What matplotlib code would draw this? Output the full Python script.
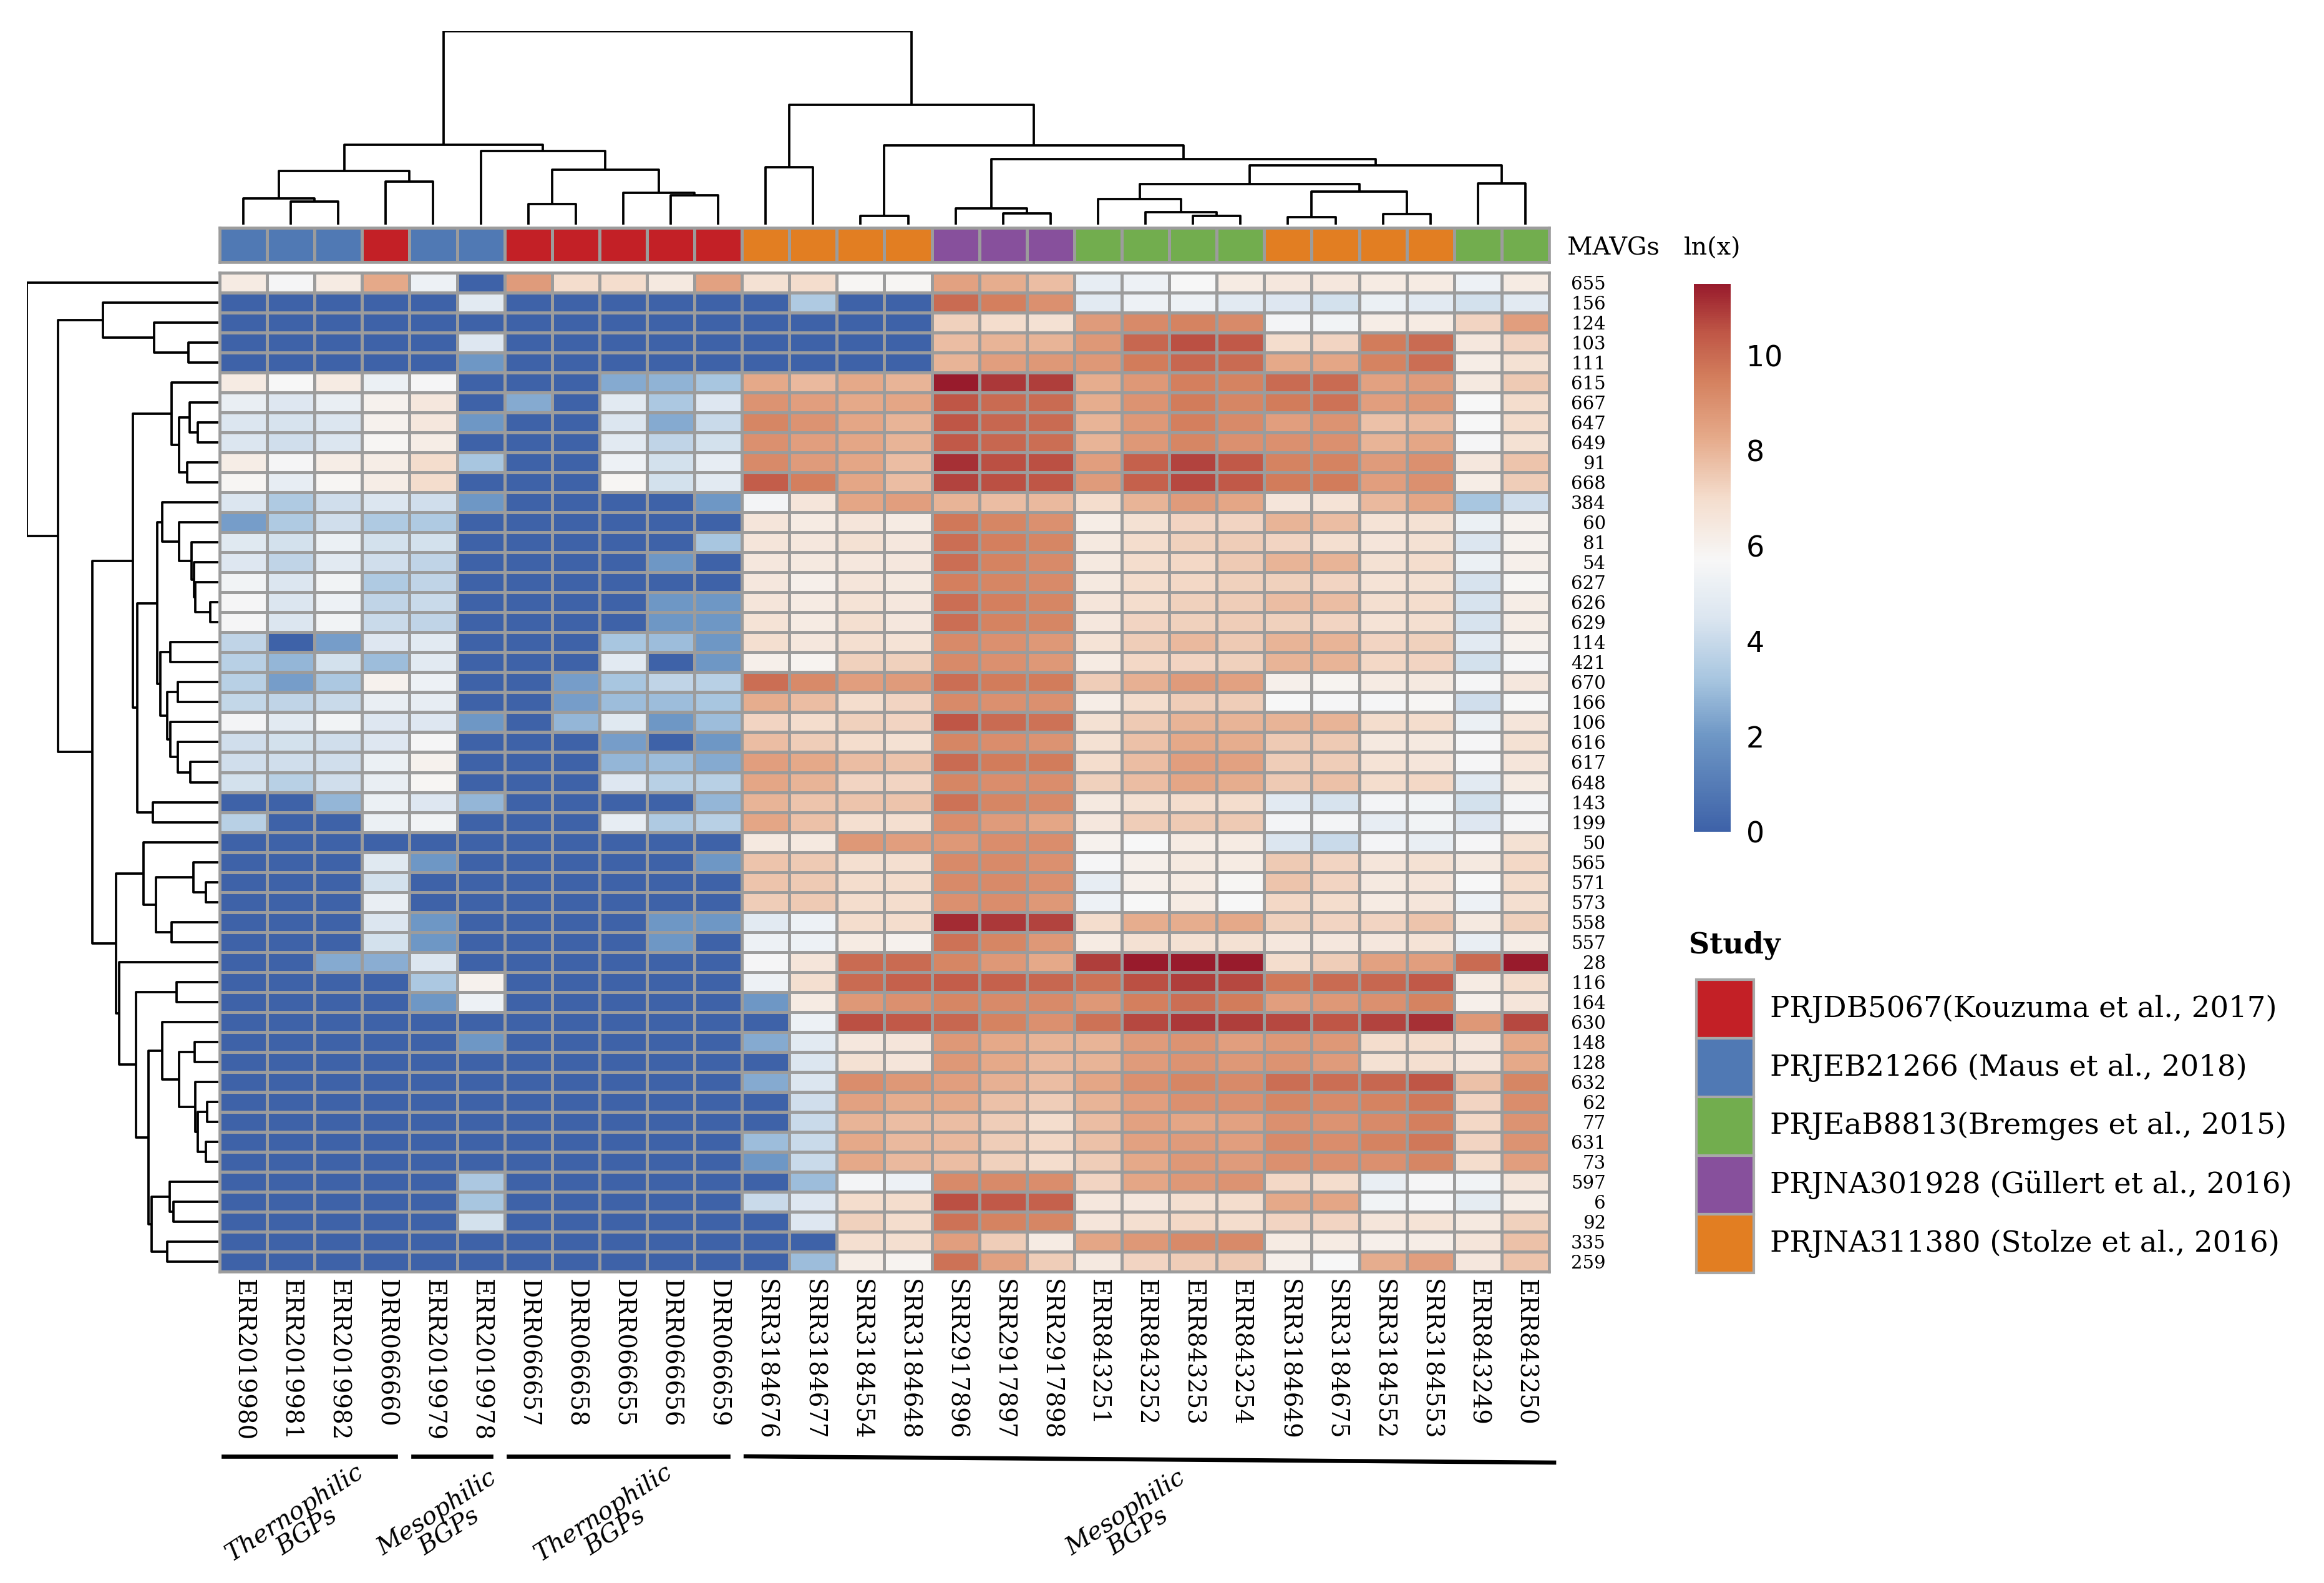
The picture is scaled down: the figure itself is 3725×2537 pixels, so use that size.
import numpy as np
import matplotlib
matplotlib.use("Agg")
import matplotlib.pyplot as plt
from matplotlib.colors import LinearSegmentedColormap, ListedColormap
from matplotlib.patches import Rectangle

# figure size in pixels
W, H = 3725, 2537
DPI = 300

samples = ["ERR2019980", "ERR2019981", "ERR2019982", "DRR066660", "ERR2019979", "ERR2019978",
           "DRR066657", "DRR066658", "DRR066655", "DRR066656", "DRR066659",
           "SRR3184676", "SRR3184677", "SRR3184554", "SRR3184648",
           "SRR2917896", "SRR2917897", "SRR2917898",
           "ERR843251", "ERR843252", "ERR843253", "ERR843254",
           "SRR3184649", "SRR3184675", "SRR3184552", "SRR3184553", "ERR843249", "ERR843250"]

mavgs = ["655", "156", "124", "103", "111", "615", "667", "647", "649", "91",
         "668", "384", "60", "81", "54", "627", "626", "629", "114", "421",
         "670", "166", "106", "616", "617", "648", "143", "199", "50", "565",
         "571", "573", "558", "557", "28", "116", "164", "630", "148", "128",
         "632", "62", "77", "631", "73", "597", "6", "92", "335", "259"]

study_names = ["PRJDB5067(Kouzuma et al., 2017)",
               "PRJEB21266 (Maus et al., 2018)",
               "PRJEaB8813(Bremges et al., 2015)",
               "PRJNA301928 (Güllert et al., 2016)",
               "PRJNA311380 (Stolze et al., 2016)"]
study_colors = ["#C32026", "#5079B4", "#72AD4E", "#87509C", "#E27E22"]
sample_study = [1, 1, 1, 0, 1, 1, 0, 0, 0, 0, 0, 4, 4, 4, 4, 3, 3, 3,
                2, 2, 2, 2, 4, 4, 4, 4, 2, 2]

# ln(x) abundance, rows = MAVGs, columns = samples
ln_abund = [
    [6.3, 5.6, 6.3, 8.3, 5.3, 0, 8.7, 7.0, 7.0, 6.4, 8.5, 6.8, 7.0, 5.8, 5.8, 8.5, 8.2, 7.8, 5.0, 5.3, 5.7, 6.3, 6.5, 6.5, 6.3, 6.3, 5.3, 6.3],
    [0, 0, 0, 0, 0, 4.8, 0, 0, 0, 0, 0, 0, 3.4, 0, 0, 10.0, 9.5, 9.0, 4.8, 5.3, 5.3, 4.8, 4.6, 4.3, 5.2, 4.8, 4.3, 4.8],
    [0, 0, 0, 0, 0, 0, 0, 0, 0, 0, 0, 0, 0, 0, 0, 7.3, 7.0, 6.8, 8.7, 9.2, 9.4, 9.2, 5.5, 5.4, 6.2, 6.3, 7.2, 8.6],
    [0, 0, 0, 0, 0, 4.6, 0, 0, 0, 0, 0, 0, 0, 0, 0, 7.8, 8.0, 8.0, 8.8, 10.1, 10.6, 10.4, 7.0, 7.2, 9.6, 10.0, 6.5, 7.2],
    [0, 0, 0, 0, 0, 2.0, 0, 0, 0, 0, 0, 0, 0, 0, 0, 8.0, 8.6, 8.8, 8.8, 9.6, 10.1, 10.0, 8.3, 8.4, 9.4, 9.9, 6.2, 6.8],
    [6.3, 5.7, 6.3, 5.2, 5.6, 0, 0, 0, 2.5, 2.7, 3.2, 8.3, 7.9, 8.3, 8.0, 11.5, 11.0, 10.9, 8.2, 8.8, 9.5, 9.4, 10.0, 10.0, 8.5, 8.7, 6.4, 7.5],
    [5.1, 4.6, 5.1, 6.0, 6.5, 0, 2.5, 0, 4.8, 3.3, 4.6, 8.9, 8.6, 8.3, 8.4, 10.5, 10.0, 10.0, 8.2, 8.9, 9.6, 9.3, 9.6, 9.8, 8.6, 8.8, 5.7, 7.0],
    [4.5, 4.4, 4.5, 6.0, 6.5, 2.0, 0, 0, 4.5, 2.5, 4.0, 9.3, 8.9, 8.4, 8.0, 10.5, 10.1, 10.0, 8.0, 8.8, 9.5, 9.2, 8.6, 8.9, 7.7, 7.9, 5.7, 7.0],
    [4.5, 4.2, 4.5, 5.8, 6.2, 0, 0, 0, 4.8, 3.8, 4.3, 9.0, 8.6, 8.4, 8.0, 10.4, 10.1, 9.9, 8.0, 8.8, 9.3, 9.0, 9.0, 9.0, 8.0, 8.4, 5.6, 6.8],
    [6.2, 5.6, 6.2, 6.2, 7.0, 3.2, 0, 0, 5.3, 4.3, 5.0, 9.2, 8.7, 8.4, 7.8, 11.1, 10.6, 10.6, 8.6, 10.2, 10.8, 10.4, 9.4, 9.4, 8.7, 9.0, 6.5, 7.6],
    [5.8, 5.0, 5.8, 6.2, 7.0, 0, 0, 0, 5.8, 4.3, 4.8, 10.3, 9.5, 8.4, 7.8, 10.8, 10.6, 10.5, 8.7, 10.2, 10.7, 10.4, 9.6, 9.6, 8.6, 9.0, 6.2, 7.4],
    [4.5, 3.4, 4.2, 4.5, 4.2, 2.0, 0, 0, 0, 0, 2.0, 5.5, 6.6, 8.4, 8.6, 8.0, 7.8, 7.9, 7.0, 8.0, 8.7, 8.4, 6.6, 6.7, 7.9, 8.4, 3.2, 4.2],
    [2.2, 3.4, 4.2, 3.4, 3.4, 0, 0, 0, 0, 0, 0, 6.6, 6.3, 6.6, 6.3, 9.7, 9.3, 9.0, 6.2, 6.8, 7.2, 7.2, 8.0, 7.8, 6.7, 6.8, 5.2, 6.0],
    [4.7, 4.3, 5.2, 4.3, 4.3, 0, 0, 0, 0, 0, 3.2, 6.6, 6.5, 6.8, 6.5, 9.9, 9.5, 9.3, 6.4, 7.0, 7.3, 7.4, 7.2, 6.9, 6.6, 6.8, 4.5, 6.0],
    [4.6, 3.8, 4.8, 4.2, 3.8, 0, 0, 0, 0, 2.0, 0, 6.5, 6.4, 6.5, 6.5, 9.9, 9.4, 9.2, 6.4, 7.0, 7.1, 7.5, 8.0, 8.0, 6.8, 7.0, 5.2, 6.1],
    [5.4, 4.5, 5.4, 3.4, 3.8, 0, 0, 0, 0, 0, 0, 6.5, 6.1, 6.6, 6.4, 9.5, 9.3, 9.2, 6.4, 7.0, 7.1, 7.3, 7.3, 7.2, 6.7, 6.8, 4.4, 5.8],
    [5.6, 4.5, 5.3, 3.8, 4.0, 0, 0, 0, 0, 2.0, 2.0, 6.6, 6.3, 6.7, 6.5, 9.9, 9.5, 9.3, 6.6, 7.0, 7.3, 7.4, 7.8, 7.8, 6.9, 7.0, 4.4, 6.2],
    [5.6, 4.5, 5.4, 4.0, 3.8, 0, 0, 0, 0, 2.0, 2.0, 6.7, 6.3, 6.9, 6.5, 9.9, 9.4, 9.3, 6.5, 7.2, 7.3, 7.4, 7.3, 7.2, 6.7, 6.9, 4.4, 6.2],
    [3.8, 0, 2.2, 4.6, 4.8, 0, 0, 0, 3.2, 3.0, 2.0, 6.9, 6.5, 6.9, 6.7, 9.2, 9.0, 8.8, 6.7, 7.4, 7.9, 7.5, 8.0, 8.0, 7.2, 7.3, 4.8, 6.0],
    [3.6, 2.8, 4.3, 3.0, 4.8, 0, 0, 0, 4.8, 0, 2.0, 6.1, 5.9, 7.3, 7.3, 9.2, 9.0, 8.8, 6.3, 7.1, 7.2, 7.3, 8.0, 8.0, 7.1, 7.2, 4.3, 5.6],
    [3.6, 2.2, 3.3, 6.0, 5.3, 0, 0, 2.2, 3.2, 3.8, 3.6, 9.9, 9.2, 8.6, 8.7, 9.9, 9.6, 9.6, 7.4, 8.1, 8.7, 8.5, 6.1, 5.9, 6.3, 6.4, 5.6, 6.5],
    [3.9, 3.8, 4.0, 5.1, 5.0, 0, 0, 2.2, 3.0, 3.0, 3.2, 8.2, 7.8, 7.0, 7.2, 9.2, 9.0, 9.0, 6.2, 7.0, 7.4, 7.4, 5.7, 5.6, 5.6, 5.8, 4.2, 5.7],
    [5.5, 4.8, 5.4, 4.6, 4.6, 2.0, 0, 2.8, 4.7, 2.0, 3.0, 7.2, 7.0, 7.3, 7.2, 10.5, 10.0, 9.8, 6.8, 7.5, 8.0, 8.0, 8.0, 8.0, 7.0, 7.0, 5.2, 6.6],
    [4.2, 4.3, 4.2, 4.6, 5.6, 0, 0, 0, 2.2, 0, 2.0, 7.8, 7.4, 7.0, 6.8, 9.3, 9.1, 8.9, 6.8, 7.7, 8.3, 8.2, 7.5, 7.5, 6.4, 6.4, 5.6, 6.8],
    [4.2, 4.2, 4.2, 5.2, 6.0, 0, 0, 0, 2.8, 3.0, 2.5, 8.6, 8.3, 7.8, 7.6, 10.0, 9.6, 9.6, 7.0, 7.8, 8.6, 8.5, 7.4, 7.4, 6.7, 6.6, 5.6, 6.6],
    [4.3, 3.6, 4.2, 5.1, 5.8, 0, 0, 0, 4.6, 3.6, 3.6, 8.4, 8.0, 7.2, 7.2, 9.3, 9.1, 9.1, 7.3, 7.8, 8.4, 8.2, 7.5, 7.7, 7.0, 7.1, 4.8, 6.3],
    [0, 0, 2.8, 5.2, 4.6, 2.8, 0, 0, 0, 0, 2.8, 8.0, 7.6, 7.6, 7.6, 9.8, 9.3, 9.2, 6.4, 6.8, 7.0, 7.0, 4.8, 4.4, 5.5, 5.4, 4.3, 5.5],
    [3.6, 0, 0, 5.2, 5.4, 0, 0, 0, 5.0, 3.4, 3.6, 8.4, 7.7, 6.9, 6.9, 9.1, 8.7, 8.4, 6.5, 7.4, 7.5, 7.5, 5.5, 5.5, 5.0, 5.4, 4.6, 5.6],
    [0, 0, 0, 0, 0, 0, 0, 0, 0, 0, 0, 6.4, 6.4, 8.8, 8.6, 8.8, 9.1, 9.1, 6.0, 5.7, 6.3, 6.3, 4.5, 4.0, 5.5, 5.1, 5.6, 6.8],
    [0, 0, 0, 4.7, 2.0, 0, 0, 0, 0, 0, 2.0, 7.6, 7.5, 6.9, 6.9, 9.2, 9.2, 9.0, 5.6, 6.1, 6.4, 6.3, 7.5, 7.2, 6.6, 6.8, 6.4, 7.1],
    [0, 0, 0, 4.3, 0, 0, 0, 0, 0, 0, 0, 7.6, 7.5, 7.0, 7.0, 9.2, 9.2, 9.0, 5.0, 6.1, 6.3, 5.8, 7.6, 7.2, 6.4, 6.6, 5.7, 7.0],
    [0, 0, 0, 5.1, 0, 0, 0, 0, 0, 0, 0, 7.4, 7.5, 7.0, 7.0, 9.0, 9.1, 8.8, 5.3, 5.7, 6.3, 5.7, 7.1, 7.0, 6.3, 6.6, 5.3, 6.9],
    [0, 0, 0, 4.5, 2.0, 0, 0, 0, 0, 2.0, 2.0, 4.8, 5.3, 7.0, 7.0, 11.2, 11.0, 10.8, 7.0, 8.2, 8.2, 8.3, 7.3, 7.2, 7.2, 7.6, 6.4, 7.3],
    [0, 0, 0, 4.3, 2.0, 0, 0, 0, 0, 2.0, 0, 5.3, 5.3, 6.3, 6.0, 9.8, 9.3, 8.8, 6.3, 6.8, 6.8, 6.8, 6.5, 6.5, 6.5, 6.7, 5.1, 6.2],
    [0, 0, 2.5, 2.6, 4.5, 0, 0, 0, 0, 0, 0, 5.6, 6.6, 10.0, 10.0, 9.3, 8.8, 8.3, 10.9, 11.5, 11.5, 11.5, 7.0, 7.4, 8.5, 8.6, 10.0, 11.5],
    [0, 0, 0, 0, 3.3, 6.0, 0, 0, 0, 0, 0, 5.3, 6.9, 10.0, 10.2, 10.3, 10.2, 10.1, 9.8, 10.6, 10.9, 10.7, 9.7, 10.0, 10.1, 10.4, 6.3, 7.0],
    [0, 0, 0, 0, 2.0, 5.3, 0, 0, 0, 0, 0, 2.0, 6.3, 8.8, 9.0, 9.3, 9.2, 9.2, 8.8, 9.5, 9.9, 9.6, 8.6, 8.8, 9.0, 9.4, 6.1, 6.6],
    [0, 0, 0, 0, 0, 0, 0, 0, 0, 0, 0, 0, 5.3, 10.6, 10.4, 10.1, 9.4, 9.0, 9.8, 10.7, 11.0, 10.9, 10.7, 10.5, 10.8, 11.1, 8.8, 10.7],
    [0, 0, 0, 0, 0, 2.0, 0, 0, 0, 0, 0, 2.5, 4.8, 6.5, 6.6, 8.8, 8.3, 8.0, 8.0, 8.7, 8.9, 8.6, 8.8, 8.8, 7.0, 7.0, 6.5, 8.3],
    [0, 0, 0, 0, 0, 0, 0, 0, 0, 0, 0, 0, 4.5, 6.8, 6.6, 8.8, 8.3, 7.9, 8.0, 8.7, 8.9, 8.8, 8.9, 8.7, 6.8, 6.9, 6.6, 8.3],
    [0, 0, 0, 0, 0, 0, 0, 0, 0, 0, 0, 2.5, 4.5, 9.1, 8.8, 8.6, 8.1, 7.8, 8.4, 9.0, 9.3, 9.2, 9.9, 9.9, 10.1, 10.5, 7.7, 9.3],
    [0, 0, 0, 0, 0, 0, 0, 0, 0, 0, 0, 0, 4.2, 8.5, 8.2, 8.3, 7.7, 7.4, 8.0, 8.6, 9.0, 9.0, 9.3, 9.2, 9.4, 9.7, 7.2, 9.1],
    [0, 0, 0, 0, 0, 0, 0, 0, 0, 0, 0, 0, 4.0, 8.0, 7.8, 7.8, 7.4, 7.0, 7.8, 8.5, 8.4, 8.5, 9.0, 8.9, 9.2, 9.5, 7.1, 8.9],
    [0, 0, 0, 0, 0, 0, 0, 0, 0, 0, 0, 3.0, 4.0, 8.3, 7.9, 7.9, 7.4, 7.1, 7.7, 8.5, 8.7, 8.6, 9.2, 9.1, 9.4, 9.7, 7.2, 8.9],
    [0, 0, 0, 0, 0, 0, 0, 0, 0, 0, 0, 2.0, 4.0, 8.3, 7.9, 7.8, 7.3, 7.0, 7.4, 8.3, 8.8, 8.7, 9.0, 9.0, 9.0, 9.3, 7.0, 8.6],
    [0, 0, 0, 0, 0, 3.3, 0, 0, 0, 0, 0, 0, 3.0, 5.5, 5.3, 9.2, 9.2, 9.1, 7.2, 8.4, 8.8, 8.9, 7.1, 7.0, 5.1, 5.6, 5.4, 6.6],
    [0, 0, 0, 0, 0, 3.2, 0, 0, 0, 0, 0, 4.0, 4.6, 7.0, 7.0, 10.6, 10.4, 10.2, 6.5, 6.5, 6.9, 7.0, 8.3, 8.4, 5.4, 5.6, 4.9, 6.2],
    [0, 0, 0, 0, 0, 4.3, 0, 0, 0, 0, 0, 0, 4.6, 7.3, 7.0, 9.8, 9.4, 9.3, 6.6, 6.9, 7.1, 7.0, 7.2, 7.2, 6.6, 6.7, 6.4, 7.3],
    [0, 0, 0, 0, 0, 0, 0, 0, 0, 0, 0, 0, 0, 6.9, 6.9, 8.6, 7.4, 6.3, 8.4, 8.8, 9.2, 9.2, 6.3, 6.3, 6.1, 6.2, 6.6, 7.7],
    [0, 0, 0, 0, 0, 0, 0, 0, 0, 0, 0, 0, 3.0, 6.2, 5.9, 9.8, 8.5, 7.4, 6.4, 7.2, 7.4, 7.5, 6.1, 5.7, 8.2, 8.6, 6.5, 7.6],
]

# dendrograms as nested (height, left, right); leaves are row / column indices
col_tree = (930,
            (383,
             (258, (125, 0, (112, 1, 2)), (208, 3, 4)),
             (353, 5, (265, (100, 6, 7), (152, 8, (142, 9, 10))))),
            (575,
             (277, 11, 12),
             (380, (43, 13, 14),
              (315, (78, 15, (53, 16, 17)),
               (285,
                (195, (123, 18, (60, 19, (43, 20, 21))), (158, (37, 22, 23), (50, 24, 25))),
                (198, 26, 27))))))

row_tree = (920, 0,
            (770,
             (555, 1, (310, 2, (145, 3, 4))),
             (605,
              (410,
               (225, 5, (190, (138, 6, (98, 7, 8)), (150, 9, 10))),
               (390,
                (295,
                 (270, 11, (190, 12, (130, 13, (118, 14, (110, 15, (40, 16, 17)))))),
                 (280, (230, 18, 19),
                  (245, (195, 20, 21), (230, 22, (195, 23, (135, 24, 25)))))),
                (315, 26, 27))),
              (490,
               (360, 28, (300, (120, 29, (60, 30, 31)), (225, 32, 33))),
               (475, 34,
                (395, (200, 35, 36),
                 (335,
                  (270, 37, (190, (115, 38, 39),
                             (110, 40, (100, (55, 41, 42), (60, 43, 44))))),
                  (320, (235, 45, (215, 46, 47)), (245, 48, 49)))))))))

# sample groups under the column labels (label, first col, last col)
groups = [("Thernophilic\nBGPs", 0, 3), ("Mesophilic\nBGPs", 4, 5),
          ("Thernophilic\nBGPs", 6, 10), ("Mesophilic\nBGPs", 11, 27)]

cmap = LinearSegmentedColormap.from_list("lnx", [
    (0.0, "#3E62A8"), (2.0 / 11.5, "#6E97C5"), (3.2 / 11.5, "#A8C6E0"),
    (4.5 / 11.5, "#DCE6F0"), (5.7 / 11.5, "#F7F7F7"), (7.0 / 11.5, "#F4DDCD"),
    (8.3 / 11.5, "#E5A989"), (9.5 / 11.5, "#D4805E"), (10.5 / 11.5, "#BF5646"),
    (1.0, "#981B2C")])

plt.rcParams['font.family'] = 'DejaVu Serif'
fig = plt.figure(figsize=(W / DPI, H / DPI), dpi=DPI)
fig.patch.set_facecolor("white")


def px_axes(x0, y0, x1, y1):
    return fig.add_axes([x0 / W, 1 - y1 / H, (x1 - x0) / W, (y1 - y0) / H])


HX0, HX1, HY0, HY1 = 352, 2483, 437, 2038
data = np.array(ln_abund)
nrow, ncol = data.shape
grid = "#9C9C9C"

# heatmap
ax = px_axes(HX0, HY0, HX1, HY1)
mesh = ax.pcolormesh(np.arange(ncol + 1), np.arange(nrow + 1), data, cmap=cmap,
                     vmin=0, vmax=11.5, edgecolors=grid, linewidth=1.1)
ax.set_xlim(0, ncol)
ax.set_ylim(nrow, 0)
ax.set_xticks(np.arange(ncol) + 0.5)
ax.set_xticklabels(samples, rotation=270, fontsize=9.3, va="top", ha="center")
ax.yaxis.tick_right()
ax.set_yticks(np.arange(nrow) + 0.5)
ax.set_yticklabels(mavgs, fontsize=7)
for t in ax.get_yticklabels():
    t.set_horizontalalignment("right")
ax.tick_params(axis="x", length=0, pad=3)
ax.tick_params(axis="y", length=0, pad=21.8)
for s in ax.spines.values():
    s.set_edgecolor(grid)
    s.set_linewidth(1.1)

# study annotation bar
axa = px_axes(HX0, 365, HX1, 420)
axa.pcolormesh(np.arange(ncol + 1), [0, 1], np.array([sample_study]),
               cmap=ListedColormap(study_colors), vmin=-0.5, vmax=4.5,
               edgecolors=grid, linewidth=1.1)
axa.set_xlim(0, ncol)
axa.set_xticks([])
axa.set_yticks([])
for s in axa.spines.values():
    s.set_edgecolor(grid)
    s.set_linewidth(1.1)


def draw_tree(a, node, top):
    if isinstance(node, int):
        return node + 0.5, 0.0
    h, left, right = node
    pl, hl = draw_tree(a, left, top)
    pr, hr = draw_tree(a, right, top)
    pos = [pl, pl, pr, pr]
    hts = [hl, h, h, hr]
    if top:
        a.plot(pos, hts, color="black", lw=0.9, solid_capstyle="butt")
    else:
        a.plot(hts, pos, color="black", lw=0.9, solid_capstyle="butt")
    return (pl + pr) / 2, h


axc = px_axes(HX0, 50, HX1, 360)
draw_tree(axc, col_tree, True)
axc.set_xlim(0, ncol)
axc.set_ylim(0, 930)
axc.axis("off")

axr = px_axes(43, HY0, 350, HY1)
draw_tree(axr, row_tree, False)
axr.set_xlim(920, 0)
axr.set_ylim(nrow, 0)
axr.axis("off")

# colour bar
cax = px_axes(2715, 455, 2774, 1333)
cb = fig.colorbar(mesh, cax=cax, ticks=[0, 2, 4, 6, 8, 10])
cb.outline.set_visible(False)
cax.tick_params(length=0, pad=6, labelsize=11)
for t in cax.get_yticklabels():
    t.set_family("DejaVu Sans")

# overlay for free text and group lines, in pixel coordinates
ov = fig.add_axes([0, 0, 1, 1])
ov.set_xlim(0, W)
ov.set_ylim(H, 0)
ov.axis("off")
ov.patch.set_alpha(0)

ov.text(2512, 398, "MAVGs", fontsize=9.5, ha="left", va="center")
ov.text(2745, 398, "ln(x)", fontsize=9.5, ha="center", va="center")

cw = (HX1 - HX0) / ncol
for label, c0, c1 in groups:
    x0 = HX0 + c0 * cw + 6
    if c1 < ncol - 1:
        x1, y1 = HX0 + (c1 + 1) * cw - 22, 2334
    else:
        x1, y1 = HX1 + 8, 2344
    ov.plot([x0, x1], [2334, y1], color="black", lw=1.6)
    xc = HX0 + (c0 + c1 + 1) / 2 * cw - 22
    ov.text(xc, 2440, label, fontsize=9.5, style="italic", rotation=33,
            ha="center", va="center", multialignment="center", linespacing=1.0)

# study legend
ov.text(2707, 1515, "Study", fontsize=11, fontweight="bold", ha="left", va="center")
bh = 94
for i, (name, col) in enumerate(zip(study_names, study_colors)):
    y = 1570 + i * bh
    ov.add_patch(Rectangle((2719, y), 92, bh, facecolor=col, edgecolor="#A8A8A8", lw=1.0))
    ov.text(2837, y + bh / 2, name, fontsize=11.2, ha="left", va="center")

fig.savefig("out.png", dpi=DPI, facecolor="white")
